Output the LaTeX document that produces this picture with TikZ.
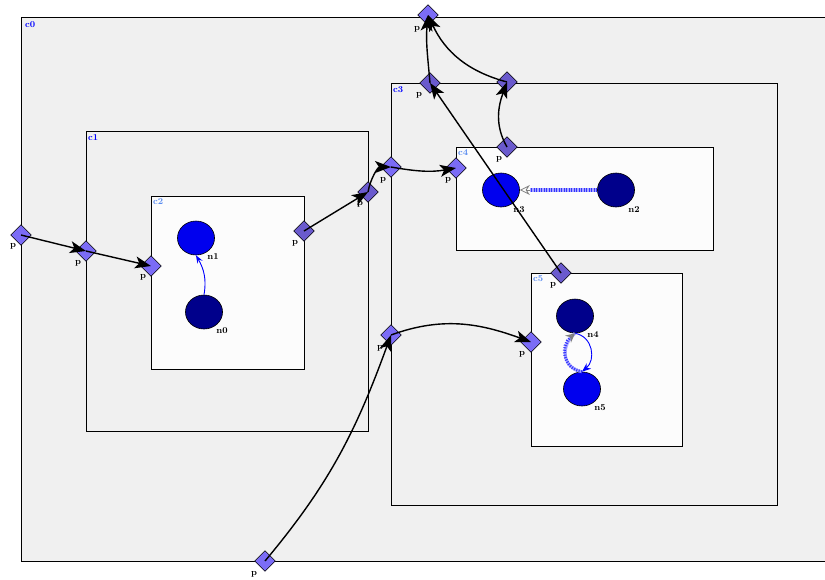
\documentclass[tikz,border=0pt]{standalone}
\usetikzlibrary{arrows.meta,patterns}
\begin{document}
\begin{tikzpicture}[x=1pt,y=-1pt,
  cont/.style={draw=black,line width=0.8pt,fill=#1},
  portL/.style={draw=black,fill=portlight,diamond0},
  portD/.style={draw=black,fill=portdark,diamond0},
  diamond0/.style={rectangle,rotate=45,minimum size=14.5pt,inner sep=0pt,line width=0.6pt},
  ball/.style={draw=black,ellipse0,fill=#1},
  ellipse0/.style={circle,minimum size=34pt,inner sep=0pt,line width=0.6pt,xscale=1.09},
  conn/.style={line width=1.4pt,-{Stealth[length=16pt,width=12pt,inset=4pt]}},
  lab/.style={font=\fontsize{9}{9}\selectfont\bfseries,inner sep=0pt},
  clab/.style={font=\fontsize{9}{9}\selectfont\bfseries,text=#1,inner sep=0pt},
]
\definecolor{portlight}{HTML}{7B6CF6}
\definecolor{portdark}{HTML}{6A5ACD}
\definecolor{bgouter}{HTML}{F0F0F0}
\definecolor{bginner}{HTML}{FCFCFC}
\definecolor{cblue}{HTML}{0000EE}
\definecolor{cnavy}{HTML}{00008B}
\definecolor{lblue}{HTML}{5A8CF0}
\useasboundingbox (0,0) rectangle (825,579);
% containers
\draw[cont=bgouter] (21,17) rectangle (830,561);
\draw[cont=bgouter] (86,131) rectangle (368,431);
\draw[cont=bginner] (151,196) rectangle (304,369);
\draw[cont=bgouter] (391,83) rectangle (777,505);
\draw[cont=bginner] (456,147) rectangle (713,250);
\draw[cont=bginner] (531,273) rectangle (682,446);
\node[clab=blue,anchor=north west] (c0) at (25,21) {c0};
\node[clab=blue,anchor=north west] (c1) at (88,134) {c1};
\node[clab=lblue,anchor=north west] (c2) at (153,198) {c2};
\node[clab=blue,anchor=north west] (c3) at (393,86) {c3};
\node[clab=lblue,anchor=north west] (c4) at (458,149) {c4};
\node[clab=lblue,anchor=north west] (c5) at (533,275) {c5};
% balls
\node[ball=cblue] (n1) at (196,238) {};
\node[ball=cnavy] (n0) at (204,312) {};
\node[ball=cblue] (n3) at (501,190) {};
\node[ball=cnavy] (n2) at (616,190) {};
\node[ball=cnavy] (n4) at (575,316) {};
\node[ball=cblue] (n5) at (582,389) {};
\node[lab] at (213,257) {n1};
\node[lab] at (222,331) {n0};
\node[lab] at (519,210) {n3};
\node[lab] at (634,210) {n2};
\node[lab] at (593,335) {n4};
\node[lab] at (600,408) {n5};
% ports
\node[portL] (pt) at (428,15) {};
\node[portD] (pa) at (430,83) {};
\node[portD] (pb) at (507,82) {};
\node[portD] (pc) at (507,147) {};
\node[portL] (p0) at (21,235) {};
\node[portL] (p1) at (86,251) {};
\node[portL] (p2) at (151,266) {};
\node[portD] (p3) at (304,231) {};
\node[portD] (p4) at (368,192) {};
\node[portL] (p5) at (391,167) {};
\node[portL] (p6) at (456,168) {};
\node[portD] (p8) at (561,273) {};
\node[portL] (p9) at (391,335) {};
\node[portL] (p7) at (531,342) {};
\node[portL] (p10) at (265,561) {};
\node[lab] at (417,29) {p};
\node[lab] at (419,95) {p};
\node[lab] at (499,159) {p};
\node[lab] at (13,246) {p};
\node[lab] at (78,263) {p};
\node[lab] at (143,277) {p};
\node[lab] at (295,243) {p};
\node[lab] at (360,204) {p};
\node[lab] at (383,180) {p};
\node[lab] at (448,180) {p};
\node[lab] at (553,285) {p};
\node[lab] at (380,348) {p};
\node[lab] at (522,354) {p};
\node[lab] at (254,574) {p};
% connectors
\draw[conn] (p0.center) -- (p1.center);
\draw[conn] (p1.center) -- (p2.center);
\draw[conn] (p3.center) -- (p4.center);
\draw[conn] (p4.center) to[out=80,in=180] (p5.center);
\draw[conn] (p5.center) to[out=-10,in=190] (p6.center);
\draw[conn] (p10.center) to[out=50,in=-110] (p9.center);
\draw[conn] (p9.center) to[out=20,in=160] (p7.center);
\draw[conn] (p8.center) -- (pa.center);
\draw[conn] (pa.center) to[out=95,in=-95] (pt.center);
\draw[conn] (pc.center) to[out=120,in=-110] (pb.center);
\draw[conn] (pb.center) to[out=165,in=-65] (pt.center);
\draw[blue,line width=0.9pt,-{Stealth[length=8pt,width=6pt,inset=3pt]}] (n0.north) to[out=80,in=-60] (n1.south);
\draw[blue!35,line width=3.5pt] (n2.west) -- ([xshift=10pt]n3.east);
\draw[blue!80,line width=3.5pt,dash pattern=on 1pt off 1.5pt] (n2.west) -- ([xshift=10pt]n3.east);
\draw[gray,line width=0.8pt,-{Stealth[length=10pt,width=10pt,open,fill=white]}] ([xshift=10pt]n3.east) -- (n3.east);
\draw[blue,line width=0.9pt,-{Stealth[length=9pt,width=7pt,inset=3pt]}] (n4.south) to[out=-10,in=40,looseness=1.2] (n5.north);
\draw[blue!35,line width=3pt] (n5.north) to[out=170,in=-140,looseness=1.3] (n4.south);
\draw[blue!80,line width=3pt,dash pattern=on 1pt off 1.5pt,-{Stealth[length=9pt,width=9pt,open,color=gray,fill=white]}] (n5.north) to[out=170,in=-140,looseness=1.3] (n4.south);
\end{tikzpicture}
\end{document}
